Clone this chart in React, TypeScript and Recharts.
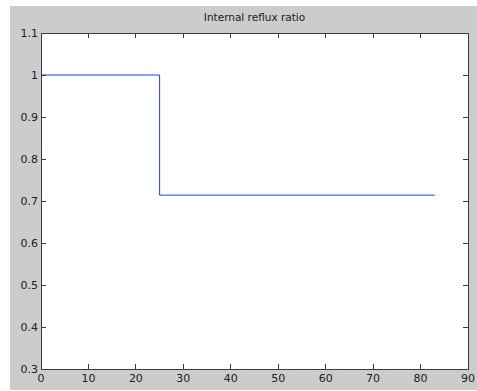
import React from 'react';
import { LineChart, Line, XAxis, YAxis, ReferenceArea, CartesianGrid } from 'recharts';

// reflux ratio profile over the run (piecewise constant)
const stepX = [0, 25, 83];
const refluxRatio = [1, 0.714, 0.714];

const xTicks = [0, 10, 20, 30, 40, 50, 60, 70, 80, 90];
const yTicks = [0.3, 0.4, 0.5, 0.6, 0.7, 0.8, 0.9, 1, 1.1];
const yTickLabels = ['0.3', '0.4', '0.5', '0.6', '0.7', '0.8', '0.9', '1', '1.1'];

const W = 467;
const H = 384;
const X_AXIS_H = 21;
const Y_AXIS_W = 31;
const margin = { top: 27, right: 9, bottom: 0, left: 0 };
const plotTop = margin.top;
const plotRight = W - margin.right;
const TICK = 5;
const axisColor = '#3c3c3c';
const textColor = '#202020';
const font = '"DejaVu Sans", Arial, sans-serif';

const data = stepX.map((x, i) => ({ x, y: refluxRatio[i] }));

// inward ticks on bottom and top edges, label under the bottom one
const XTick = (props: any) => {
  const { x, y, payload } = props;
  return (
    <g>
      <line x1={x} y1={y} x2={x} y2={y - TICK} stroke={axisColor} shapeRendering="crispEdges" />
      <line x1={x} y1={plotTop} x2={x} y2={plotTop + TICK} stroke={axisColor} shapeRendering="crispEdges" />
      <text x={x} y={y + 13} textAnchor="middle" fontSize={11} fontFamily={font} fill={textColor}>
        {payload.value}
      </text>
    </g>
  );
};

// inward ticks on left and right edges, label left of the axis
const YTick = (props: any) => {
  const { x, y, payload, index } = props;
  return (
    <g>
      <line x1={x} y1={y} x2={x + TICK} y2={y} stroke={axisColor} shapeRendering="crispEdges" />
      <line x1={plotRight} y1={y} x2={plotRight - TICK} y2={y} stroke={axisColor} shapeRendering="crispEdges" />
      <text x={x - 3} y={y + 4} textAnchor="end" fontSize={11} fontFamily={font} fill={textColor}>
        {yTickLabels[index] ?? payload.value}
      </text>
    </g>
  );
};

const Box = (props: any) => {
  const { x, y, width, height } = props;
  return (
    <rect x={x} y={y} width={width} height={height} fill="none" stroke={axisColor} shapeRendering="crispEdges" />
  );
};

export default function App() {
  return (
    <div style={{ position: 'absolute', left: 10, top: 6, width: W, height: H, background: '#cccccc' }}>
      <div
        style={{
          position: 'absolute',
          left: Y_AXIS_W,
          width: W - Y_AXIS_W - margin.right,
          top: 5,
          textAlign: 'center',
          fontFamily: font,
          fontSize: 10.5,
          color: textColor,
        }}
      >
        Internal reflux ratio
      </div>
      <LineChart width={W} height={H} data={data} margin={margin}>
        <CartesianGrid horizontal={false} vertical={false} fill="#ffffff" stroke="none" />
        <XAxis
          dataKey="x"
          type="number"
          domain={[0, 90]}
          ticks={xTicks}
          interval={0}
          height={X_AXIS_H}
          tickSize={0}
          tickMargin={0}
          axisLine={false}
          tickLine={false}
          tick={<XTick />}
        />
        <YAxis
          type="number"
          domain={[0.3, 1.1]}
          ticks={yTicks}
          interval={0}
          width={Y_AXIS_W}
          tickSize={0}
          tickMargin={0}
          axisLine={false}
          tickLine={false}
          tick={<YTick />}
        />
        <ReferenceArea x1={0} x2={90} y1={0.3} y2={1.1} shape={<Box />} />
        <Line
          type="stepAfter"
          dataKey="y"
          stroke="#2036ff"
          strokeWidth={1}
          dot={false}
          isAnimationActive={false}
        />
      </LineChart>
    </div>
  );
}
